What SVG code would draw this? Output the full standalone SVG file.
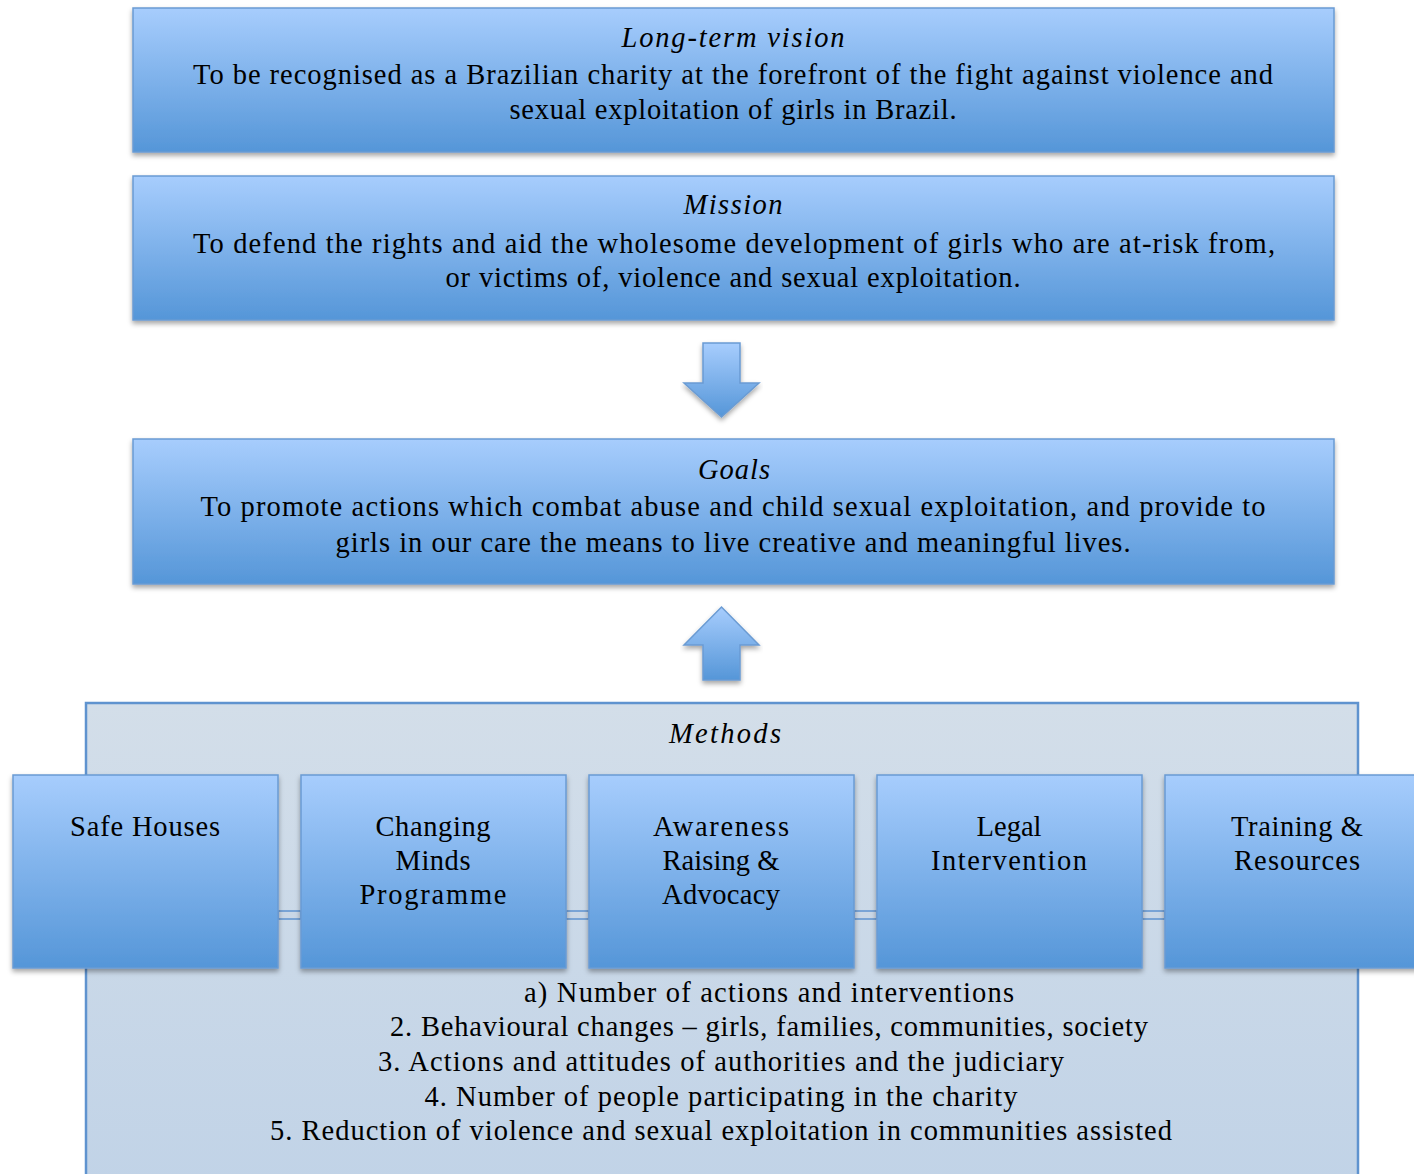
<svg xmlns="http://www.w3.org/2000/svg" width="1414" height="1174" viewBox="0 0 1414 1174">
<defs>
<linearGradient id="blue" x1="0" y1="0" x2="0" y2="1">
<stop offset="0" stop-color="#a7cdfd"/>
<stop offset="1" stop-color="#5596d8"/>
</linearGradient>
<linearGradient id="pale" x1="0" y1="0" x2="0" y2="1">
<stop offset="0" stop-color="#d3dee9"/>
<stop offset="1" stop-color="#c1d3e7"/>
</linearGradient>
<filter id="sh" x="-5%" y="-10%" width="110%" height="125%">
<feDropShadow dx="0" dy="3" stdDeviation="2.5" flood-color="#000" flood-opacity="0.35"/>
</filter>
</defs>
<style>
.box{fill:url(#blue);stroke:#6a9bd3;stroke-width:1.5;filter:url(#sh)}
.t{font-family:"Liberation Serif","DejaVu Serif",serif;font-size:28.5px;fill:#000;text-anchor:middle}
.i{font-style:italic}
.m{font-family:"Liberation Serif","DejaVu Serif",serif;font-size:28.5px;fill:#000;text-anchor:middle}
</style>

<g id="methods">
<rect x="86" y="703" width="1272" height="480" fill="url(#pale)" stroke="#5f93cf" stroke-width="2.5"/>
<text class="t i" x="725" y="743" textLength="112">Methods</text>
<text class="t" x="769" y="1002" textLength="490" lengthAdjust="spacing">a) Number of actions and interventions</text>
<text class="t" x="769" y="1036" textLength="758" lengthAdjust="spacing">2. Behavioural changes – girls, families, communities, society</text>
<text class="t" x="721" y="1071" textLength="686" lengthAdjust="spacing">3. Actions and attitudes of authorities and the judiciary</text>
<text class="t" x="721" y="1106" textLength="593" lengthAdjust="spacing">4. Number of people participating in the charity</text>
<text class="t" x="721" y="1140" textLength="902" lengthAdjust="spacing">5. Reduction of violence and sexual exploitation in communities assisted</text>
</g>

<g id="connectors">
<rect x="278" y="911" width="23" height="8" fill="#cad7e6" stroke="#5f93cf" stroke-width="1.5"/>
<rect x="566" y="911" width="23" height="8" fill="#cad7e6" stroke="#5f93cf" stroke-width="1.5"/>
<rect x="854" y="911" width="23" height="8" fill="#cad7e6" stroke="#5f93cf" stroke-width="1.5"/>
<rect x="1142" y="911" width="23" height="8" fill="#cad7e6" stroke="#5f93cf" stroke-width="1.5"/>
<path d="M703,343 H740 V383 H759 L721.5,417 L684,383 H703 Z" fill="url(#blue)" stroke="#6a9bd3" stroke-width="1.5" filter="url(#sh)"/>
<path d="M703,680 H740 V645 H759 L721.5,607 L684,645 H703 Z" fill="url(#blue)" stroke="#6a9bd3" stroke-width="1.5" filter="url(#sh)"/>
</g>

<g id="vision">
<rect class="box" x="133" y="8" width="1201" height="144"/>
<text class="t i" x="733" y="47" textLength="223">Long-term vision</text>
<text class="t" x="733" y="84" textLength="1080" lengthAdjust="spacing">To be recognised as a Brazilian charity at the forefront of the fight against violence and</text>
<text class="t" x="733" y="119" textLength="447" lengthAdjust="spacing">sexual exploitation of girls in Brazil.</text>
</g>

<g id="mission">
<rect class="box" x="133" y="176" width="1201" height="144"/>
<text class="t i" x="733" y="214" textLength="99">Mission</text>
<text class="t" x="734" y="253" textLength="1082" lengthAdjust="spacing">To defend the rights and aid the wholesome development of girls who are at-risk from,</text>
<text class="t" x="733" y="287" textLength="575" lengthAdjust="spacing">or victims of, violence and sexual exploitation.</text>
</g>

<g id="goals">
<rect class="box" x="133" y="439" width="1201" height="145"/>
<text class="t i" x="734" y="479" textLength="72">Goals</text>
<text class="t" x="733" y="516" textLength="1065" lengthAdjust="spacing">To promote actions which combat abuse and child sexual exploitation, and provide to</text>
<text class="t" x="733" y="552" textLength="795" lengthAdjust="spacing">girls in our care the means to live creative and meaningful lives.</text>
</g>

<g id="safe-houses">
<rect class="box" x="13" y="775" width="265" height="193"/>
<text class="m" x="145" y="836" textLength="150">Safe Houses</text>
</g>

<g id="changing-minds">
<rect class="box" x="301" y="775" width="265" height="193"/>
<text class="m" x="433" y="836" textLength="115">Changing</text>
<text class="m" x="433" y="870" textLength="75">Minds</text>
<text class="m" x="433" y="904" textLength="147">Programme</text>
</g>

<g id="awareness">
<rect class="box" x="589" y="775" width="265" height="193"/>
<text class="m" x="721" y="836" textLength="136">Awareness</text>
<text class="m" x="721" y="870" textLength="117">Raising &amp;</text>
<text class="m" x="721" y="904" textLength="118">Advocacy</text>
</g>

<g id="legal">
<rect class="box" x="877" y="775" width="265" height="193"/>
<text class="m" x="1009" y="836" textLength="65">Legal</text>
<text class="m" x="1009" y="870" textLength="156">Intervention</text>
</g>

<g id="training">
<rect class="box" x="1165" y="775" width="265" height="193"/>
<text class="m" x="1297" y="836" textLength="132">Training &amp;</text>
<text class="m" x="1297" y="870" textLength="126">Resources</text>
</g>
</svg>
